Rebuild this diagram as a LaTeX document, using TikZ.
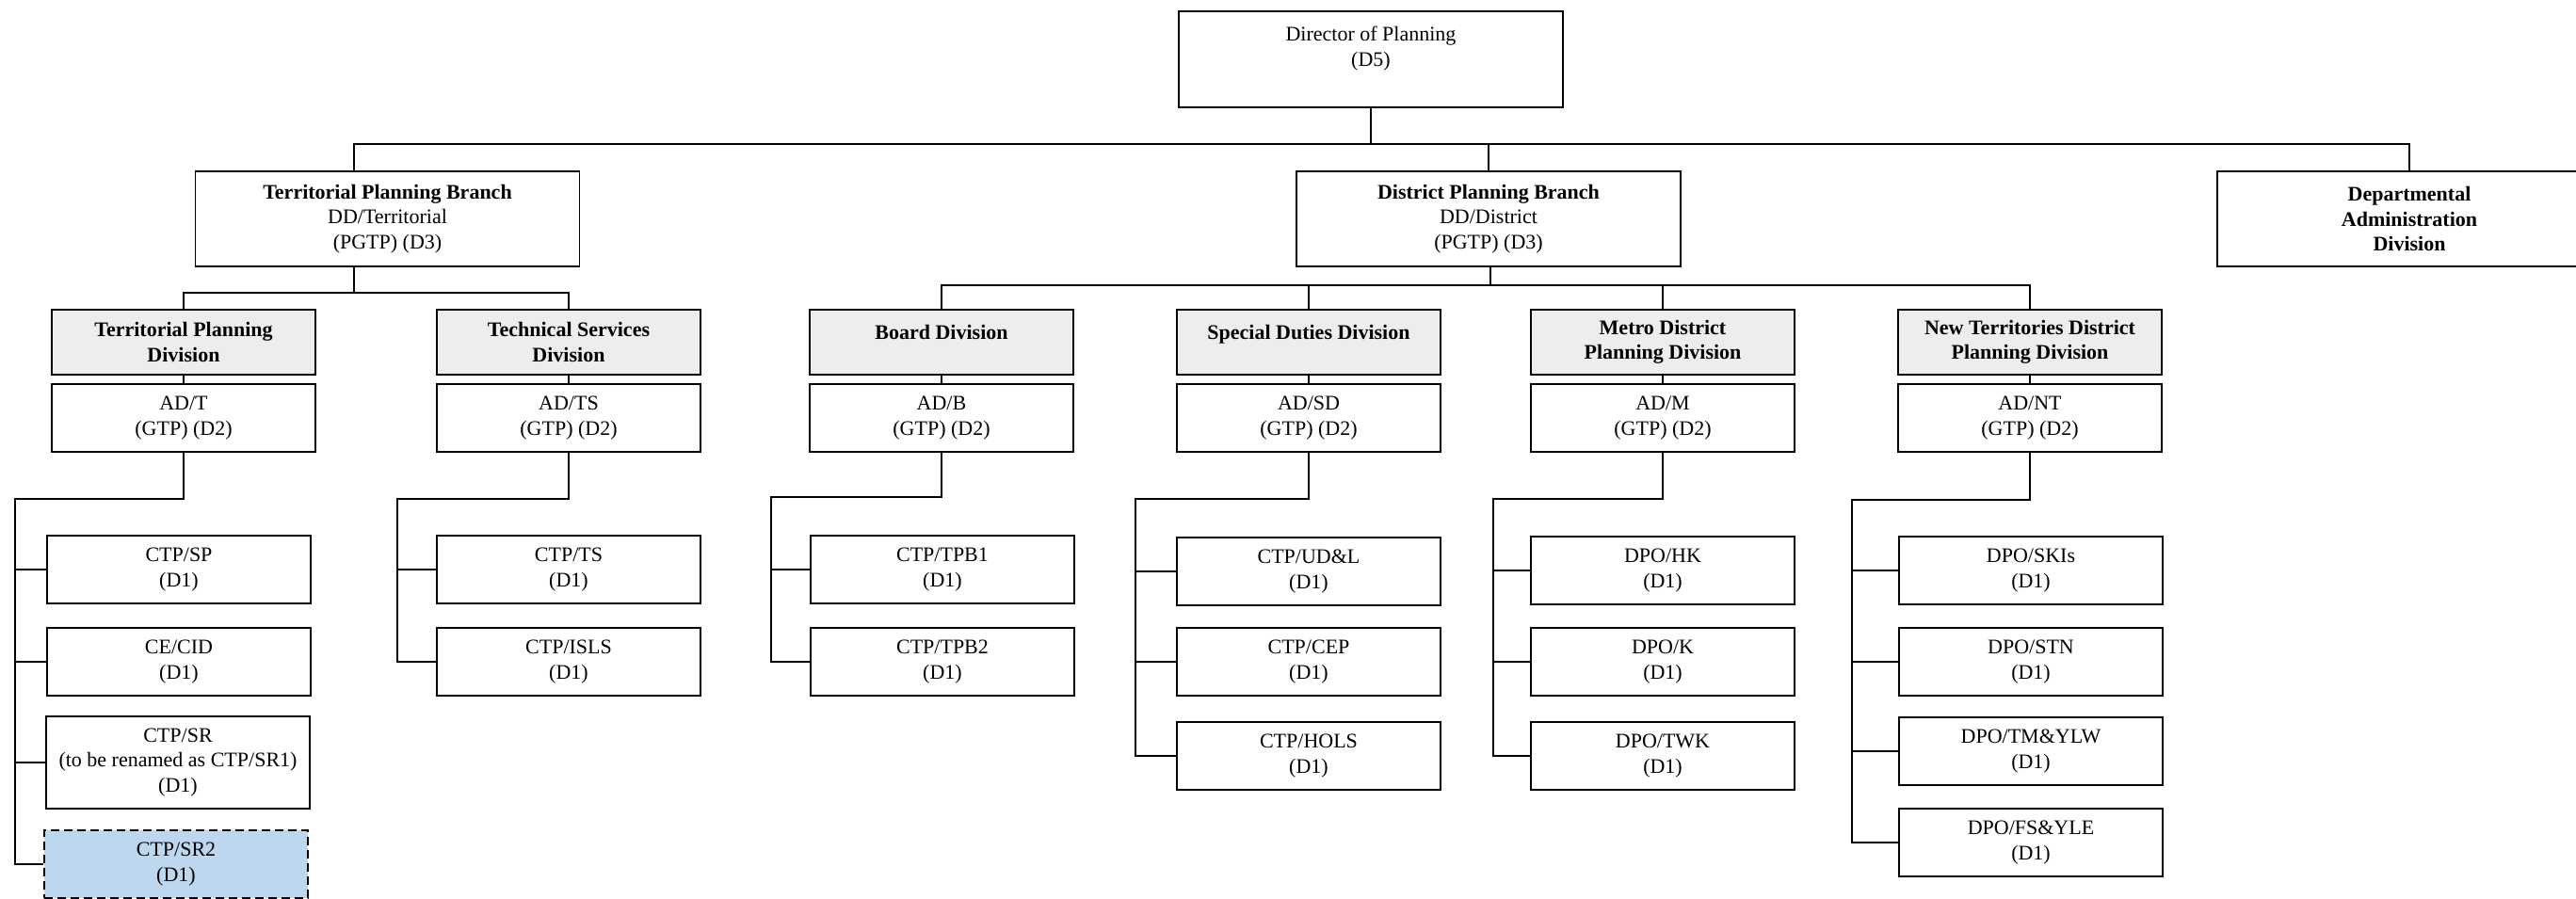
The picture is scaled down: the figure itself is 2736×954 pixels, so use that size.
\documentclass[tikz,border=0pt]{standalone}
\usepackage{fontspec}
\setmainfont{Liberation Serif}
\usetikzlibrary{positioning}
\definecolor{divgrey}{HTML}{EDEDED}
\definecolor{newblue}{HTML}{BDD7EE}
\newcommand{\chartfont}{\fontsize{22}{26.5}\selectfont}
\tikzset{
	unit/.style={
		draw,
		rectangle,
		line width=1.8pt,
		align=center,
		inner sep=0pt,
		minimum width=280pt,
		minimum height=72pt,
		font=\chartfont
	},
	branch/.style={
		unit,
		minimum width=408pt,
		minimum height=101pt
	},
	division/.style={
		unit,
		fill=divgrey,
		minimum height=69pt,
		font=\chartfont\bfseries
	},
	newpost/.style={
		unit,
		fill=newblue,
		dash pattern=on 9pt off 5pt
	},
	link/.style={
		line width=1.5pt
	}
}

\begin{document}
\begin{tikzpicture}[x=1pt, y=-1pt]
		\useasboundingbox (0,0) rectangle (2736,954);
		
		\node [branch, minimum height=102pt] (dop) at (1456,63) {Director of Planning\\(D5)\\[-7pt]\strut};
		\node [branch] (tpb) at (411.5,232.5) {\textbf{Territorial Planning Branch}\\DD/Territorial\\(PGTP) (D3)};
		\node [branch] (dpb) at (1581,232.5) {\textbf{District Planning Branch}\\DD/District\\(PGTP) (D3)};
		\node [branch, font=\chartfont\bfseries] (dad) at (2559,232.5) {Departmental\\Administration\\Division};
		
		\node [division] (tpd) at (195,363.5) {Territorial Planning\\Division};
		\node [division] (tsd) at (604,363.5) {Technical Services\\Division};
		\node [division] (bd) at (1000,363.5) {Board Division\\[-14pt]\strut};
		\node [division] (sdd) at (1390,363.5) {Special Duties Division\\[-14pt]\strut};
		\node [division] (mdd) at (1766,363.5) {Metro District\\Planning Division};
		\node [division] (ntd) at (2156,363.5) {New Territories District\\Planning Division};
		
		\node [unit] (adt) at (195,444) {AD/T\\(GTP) (D2)};
		\node [unit] (adts) at (604,444) {AD/TS\\(GTP) (D2)};
		\node [unit] (adb) at (1000,444) {AD/B\\(GTP) (D2)};
		\node [unit] (adsd) at (1390,444) {AD/SD\\(GTP) (D2)};
		\node [unit] (adm) at (1766,444) {AD/M\\(GTP) (D2)};
		\node [unit] (adnt) at (2156,444) {AD/NT\\(GTP) (D2)};
		
		\node [unit] (ctpsp) at (190,605) {CTP/SP\\(D1)};
		\node [unit] (cecid) at (190,703) {CE/CID\\(D1)};
		\node [unit, minimum height=98pt] (ctpsr) at (189,810) {CTP/SR\\(to be renamed as CTP/SR1)\\(D1)};
		\node [newpost] (ctpsr2) at (187,918) {CTP/SR2\\(D1)};
		
		\node [unit] (ctpts) at (604,605) {CTP/TS\\(D1)};
		\node [unit] (ctpisls) at (604,703) {CTP/ISLS\\(D1)};
		
		\node [unit] (tpbone) at (1001,605) {CTP/TPB1\\(D1)};
		\node [unit] (tpbtwo) at (1001,703) {CTP/TPB2\\(D1)};
		
		\node [unit] (udl) at (1390,607) {CTP/UD\&L\\(D1)};
		\node [unit] (cep) at (1390,703) {CTP/CEP\\(D1)};
		\node [unit] (hols) at (1390,803) {CTP/HOLS\\(D1)};
		
		\node [unit] (dpohk) at (1766,606) {DPO/HK\\(D1)};
		\node [unit] (dpok) at (1766,703) {DPO/K\\(D1)};
		\node [unit] (dpotwk) at (1766,803) {DPO/TWK\\(D1)};
		
		\node [unit] (skis) at (2157,606) {DPO/SKIs\\(D1)};
		\node [unit] (stn) at (2157,703) {DPO/STN\\(D1)};
		\node [unit] (tmylw) at (2157,798) {DPO/TM\&YLW\\(D1)};
		\node [unit] (fsyle) at (2157,895) {DPO/FS\&YLE\\(D1)};
		
		\coordinate (topbus) at (1456,153);
		\coordinate (tpbus) at (376,311);
		\coordinate (dpbus) at (1583,303);
		\coordinate (tpspine) at (16,530);
		\coordinate (tsspine) at (422,530);
		\coordinate (bspine) at (819,528);
		\coordinate (sdspine) at (1206,530);
		\coordinate (mspine) at (1586,530);
		\coordinate (ntspine) at (1967,531);
		
		\draw [link] (dop.south) -- (topbus);
		\draw [link] (tpb.north -| tpbus) |- (topbus) -| (dad.north);
		\draw [link] (dpb.north) -- (dpb.north |- topbus);
		
		\draw [link] (tpb.south -| tpbus) -- (tpbus);
		\draw [link] (tpd.north) |- (tpbus) -| (tsd.north);
		\draw [link] (dpb.south -| dpbus) -- (dpbus);
		\draw [link] (bd.north) |- (dpbus) -| (ntd.north);
		\foreach \d in {sdd, mdd} {
			\draw [link] (\d.north) -- (\d.north |- dpbus);
		}
		
		\foreach \d/\a in {tpd/adt, tsd/adts, bd/adb, sdd/adsd, mdd/adm, ntd/adnt} {
			\draw [link] (\d.south) -- (\a.north);
		}
		
		\foreach \a/\sp/\last in {adt/tpspine/ctpsr2, adts/tsspine/ctpisls, adb/bspine/tpbtwo, adsd/sdspine/hols, adm/mspine/dpotwk, adnt/ntspine/fsyle} {
			\draw [link] (\a.south) |- (\sp) |- (\last.west);
		}
		\foreach \n/\sp in {ctpsp/tpspine, cecid/tpspine, ctpsr/tpspine, ctpts/tsspine, tpbone/bspine, udl/sdspine, cep/sdspine, dpohk/mspine, dpok/mspine, skis/ntspine, stn/ntspine, tmylw/ntspine} {
			\draw [link] (\n.west) -- (\n.west -| \sp);
		}
\end{tikzpicture}
\end{document}
